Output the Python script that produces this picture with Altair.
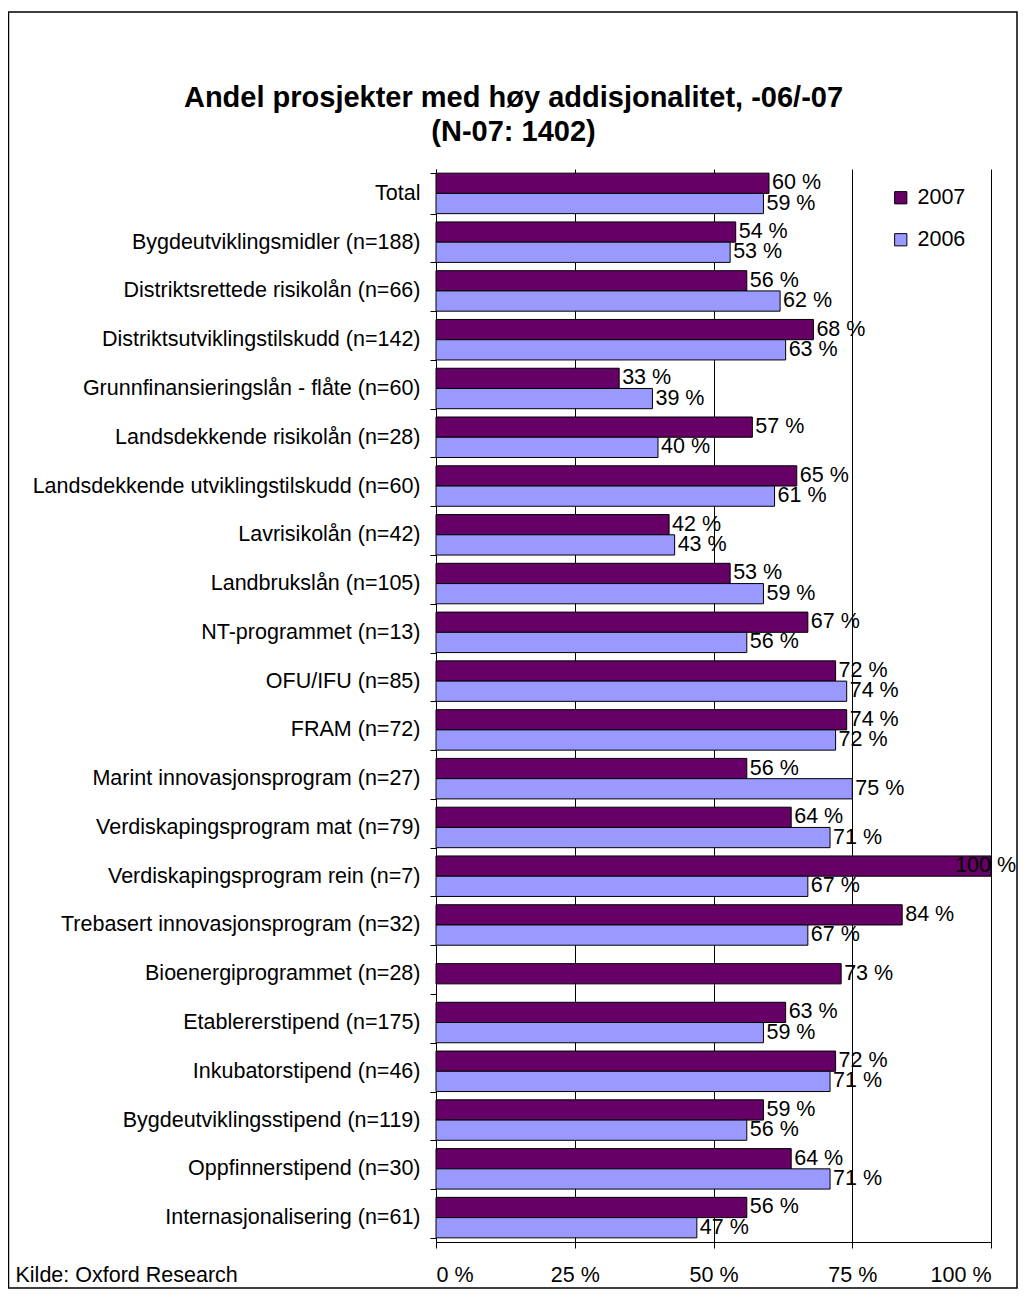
import altair as alt
import pandas as pd

categories = [
    "Total",
    "Bygdeutviklingsmidler (n=188)",
    "Distriktsrettede risikolån (n=66)",
    "Distriktsutviklingstilskudd (n=142)",
    "Grunnfinansieringslån - flåte (n=60)",
    "Landsdekkende risikolån (n=28)",
    "Landsdekkende utviklingstilskudd (n=60)",
    "Lavrisikolån (n=42)",
    "Landbrukslån (n=105)",
    "NT-programmet (n=13)",
    "OFU/IFU (n=85)",
    "FRAM (n=72)",
    "Marint innovasjonsprogram (n=27)",
    "Verdiskapingsprogram mat (n=79)",
    "Verdiskapingsprogram rein (n=7)",
    "Trebasert innovasjonsprogram (n=32)",
    "Bioenergiprogrammet (n=28)",
    "Etablererstipend (n=175)",
    "Inkubatorstipend (n=46)",
    "Bygdeutviklingsstipend (n=119)",
    "Oppfinnerstipend (n=30)",
    "Internasjonalisering (n=61)",
]
v2007 = [60, 54, 56, 68, 33, 57, 65, 42, 53, 67, 72, 74, 56, 64, 100, 84, 73, 63, 72, 59, 64, 56]
v2006 = [59, 53, 62, 63, 39, 40, 61, 43, 59, 56, 74, 72, 75, 71, 67, 67, None, 59, 71, 56, 71, 47]
years = ["2007", "2006"]
colors = ["#660066", "#9999FF"]
x_ticks = [0, 25, 50, 75, 100]

pair_rows, single_rows = [], []
for c, a, b in zip(categories, v2007, v2006):
    if b is None:
        single_rows.append({"cat": c, "year": "2007", "value": a})
    else:
        pair_rows.append({"cat": c, "year": "2007", "value": a})
        pair_rows.append({"cat": c, "year": "2006", "value": b})
df_pair = pd.DataFrame(pair_rows)
df_single = pd.DataFrame(single_rows)

FONT = "Liberation Sans"
FS = 21.5

x_axis = alt.Axis(
    values=x_ticks,
    labelExpr="datum.value + ' %'",
    grid=True,
    gridColor="#000000",
    gridWidth=1,
    domainColor="#000000",
    tickColor="#000000",
    tickSize=6,
    labelFontSize=FS,
    labelFont=FONT,
    labelColor="#000000",
    labelPadding=16,
    title="Kilde: Oxford Research",
    titleX=-421,
    titleY=33,
    titleAlign="left",
    titleBaseline="middle",
    titleFontWeight="normal",
    titleFontSize=FS,
    titleFont=FONT,
    titleColor="#000000",
)

y_axis = alt.Axis(
    title=None,
    tickBand="extent",
    tickSize=6,
    tickColor="#000000",
    domainColor="#000000",
    labelFontSize=FS,
    labelFont=FONT,
    labelColor="#000000",
    labelPadding=10,
    labelLimit=500,
)

x_scale = alt.Scale(domain=[0, 100])
y_enc = alt.Y("cat:N", sort=categories,
              scale=alt.Scale(domain=categories, paddingInner=0.17, paddingOuter=0.085),
              axis=y_axis)
yoff_enc = alt.YOffset("year:N", sort=years,
                       scale=alt.Scale(domain=years, paddingInner=0, paddingOuter=0))
fill_enc = alt.Fill("year:N", scale=alt.Scale(domain=years, range=colors),
                    legend=alt.Legend(orient="none", legendX=454, legendY=18, title=None,
                                      symbolType="square", symbolSize=150,
                                      symbolStrokeColor="#000000", symbolStrokeWidth=1,
                                      labelFontSize=FS, labelFont=FONT, labelColor="#000000",
                                      rowPadding=19, labelOffset=6))

bars = alt.Chart(df_pair).mark_bar(stroke="#000000", strokeWidth=1).encode(
    x=alt.X("value:Q", scale=x_scale, axis=x_axis),
    y=y_enc,
    yOffset=yoff_enc,
    fill=fill_enc,
)

bars_single = alt.Chart(df_single).mark_bar(
    stroke="#000000", strokeWidth=1, height=alt.RelativeBandSize(band=0.5)
).encode(
    x=alt.X("value:Q", scale=x_scale, axis=x_axis),
    y=y_enc,
    fill=fill_enc,
)

text_mark = dict(align="left", baseline="middle", dx=3, fontSize=FS, font=FONT, color="#000000")

labels = alt.Chart(df_pair).transform_calculate(
    labelpos="min(datum.value, 93)",
    txt="datum.value + ' %'",
).mark_text(**text_mark).encode(
    x=alt.X("labelpos:Q", scale=x_scale, axis=x_axis),
    y=y_enc,
    yOffset=yoff_enc,
    text="txt:N",
)

labels_single = alt.Chart(df_single).transform_calculate(
    labelpos="min(datum.value, 93)",
    txt="datum.value + ' %'",
).mark_text(**text_mark).encode(
    x=alt.X("labelpos:Q", scale=x_scale, axis=x_axis),
    y=y_enc,
    text="txt:N",
)

border = alt.Chart(alt.Data(values=[{"a": 1}])).mark_rect(
    filled=False, stroke="#000000", strokeWidth=1.5
).encode(
    x=alt.value(-427.5), x2=alt.value(581), y=alt.value(-157), y2=alt.value(1119)
)

chart = alt.layer(bars, bars_single, labels, labels_single, border).properties(
    width=555,
    height=1073,
    autosize=alt.AutoSizeParams(type="none"),
    padding={"left": 428, "top": 161, "right": 27, "bottom": 50},
    title=alt.TitleParams(
        text=["Andel prosjekter med høy addisjonalitet, -06/-07", "(N-07: 1402)"],
        anchor="middle", frame="group", dx=-200, dy=164, offset=28,
        fontSize=29, font=FONT, fontWeight="bold", lineHeight=34, color="#000000",
    ),
).configure_view(stroke="transparent")

chart.save("out.html", embed_options={"renderer": "svg", "actions": False})
